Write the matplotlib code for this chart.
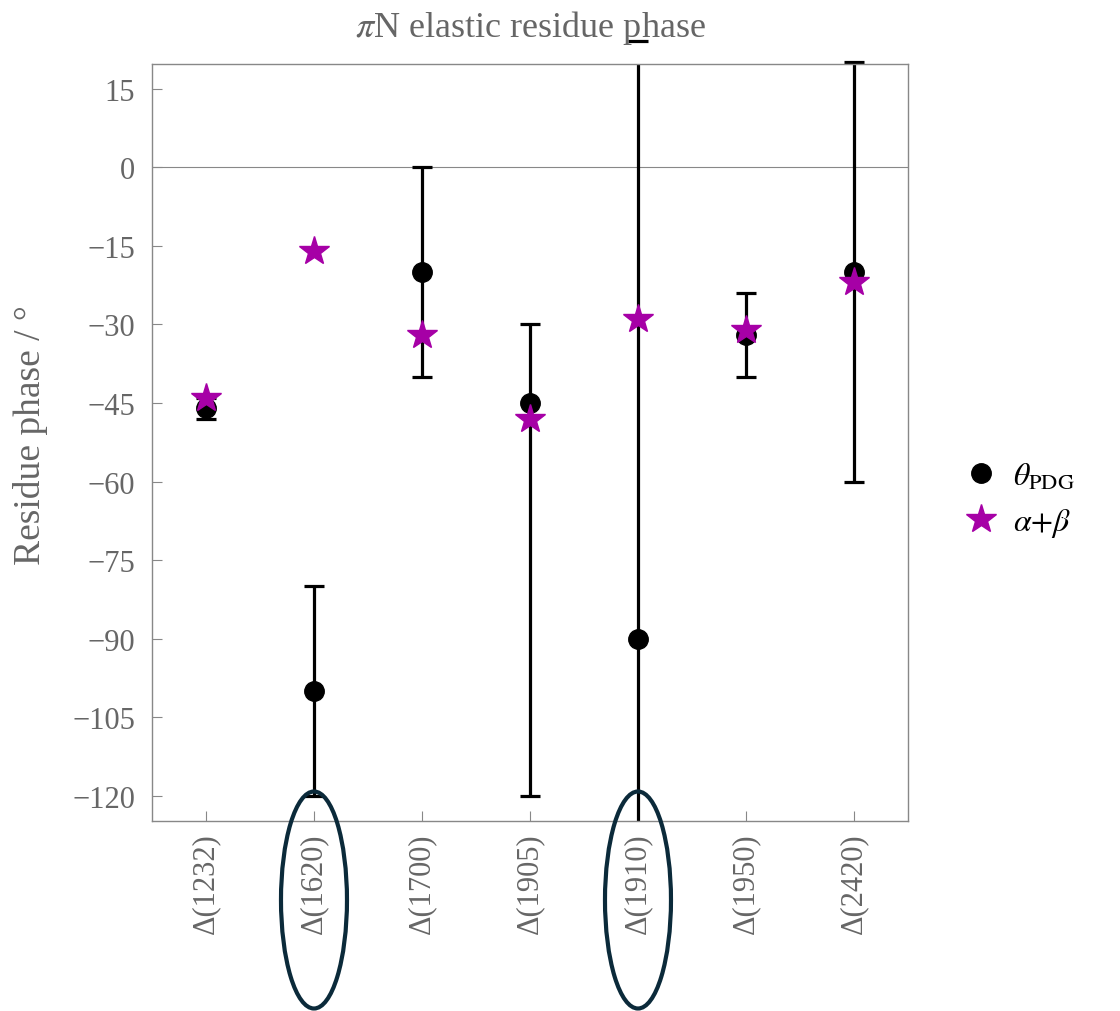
import matplotlib.pyplot as plt
from matplotlib.patches import Ellipse

# data
states = ["Δ(1232)", "Δ(1620)", "Δ(1700)", "Δ(1905)", "Δ(1910)", "Δ(1950)", "Δ(2420)"]
theta_pdg = [-46, -100, -20, -45, -90, -32, -20]
err_upper = [-44, -80, 0, -30, 24, -24, 20]
err_lower = [-48, -120, -40, -120, -135, -40, -60]
alpha_beta = [-44, -16, -32, -48, -29, -31, -22]
highlighted = ["Δ(1620)", "Δ(1910)"]

GRAY = "#666666"


def plot_phase():
    plt.rcParams["font.family"] = ["Liberation Serif", "DejaVu Serif"]
    plt.rcParams["mathtext.fontset"] = "stix"

    fig = plt.figure(figsize=(11.2, 10.12), dpi=100)
    ax = fig.add_axes([0.1357, 0.1877, 0.675, 0.7481])

    x = list(range(len(states)))
    lo = [t - l for t, l in zip(theta_pdg, err_lower)]
    hi = [u - t for t, u in zip(theta_pdg, err_upper)]

    ax.axhline(0, color="#888888", linewidth=0.8, zorder=1)
    ax.errorbar(x, theta_pdg, yerr=[lo, hi], fmt="none", ecolor="black",
                elinewidth=2.3, capsize=7, capthick=2.3, zorder=2)
    ax.plot(x, theta_pdg, "o", color="black", markersize=14, zorder=3,
            label=r"$\theta_{\mathrm{PDG}}$")
    ax.plot(x, alpha_beta, "*", color="#a600a6", markersize=22, zorder=4,
            label=r"$\alpha{+}\beta$")

    # caps that lie outside the frame are still drawn in the original
    for xi, u in zip(x, err_upper):
        if u > 19.7:
            ax.plot([xi], [u], "_", color="black", markersize=14,
                    markeredgewidth=2.3, clip_on=False)

    ax.set_xlim(-0.5, len(states) - 0.5)
    ax.set_ylim(-124.8, 19.7)
    yt = list(range(-120, 16, 15))
    ax.set_yticks(yt)
    ax.set_yticklabels(["\u2212%d" % -v if v < 0 else str(v) for v in yt])
    ax.set_xticks(x)
    ax.set_xticklabels(states, rotation=90)

    ax.tick_params(axis="both", direction="in", colors="#888888",
                   labelcolor=GRAY, length=7, width=0.8)
    ax.tick_params(axis="y", labelsize=22, pad=12)
    ax.tick_params(axis="x", labelsize=22, pad=8)
    for s in ax.spines.values():
        s.set_color("#888888")
        s.set_linewidth(1.0)

    ax.set_title(r"$\pi$N elastic residue phase", color=GRAY, fontsize=26, pad=20)
    ax.set_ylabel("Residue phase / °", color=GRAY, fontsize=27)
    ax.yaxis.set_label_coords(-0.138, 0.511)

    # ellipses around highlighted labels
    for name in highlighted:
        i = states.index(name)
        xc = ax.transData.transform((i, 0))[0] / fig.bbox.width
        e = Ellipse((xc, 1 - 901 / 1012), 66 / 1120, 217 / 1012,
                    transform=fig.transFigure, fill=False,
                    edgecolor="#0b2a3a", linewidth=3)
        fig.patches.append(e)

    fig.legend(loc="center left", bbox_to_anchor=(0.833, 0.505), frameon=False,
               fontsize=23, handletextpad=0.4, labelspacing=0.45, handlelength=1.2)

    fig.savefig("out.png", dpi=100)
    plt.close(fig)


if __name__ == "__main__":
    plot_phase()
